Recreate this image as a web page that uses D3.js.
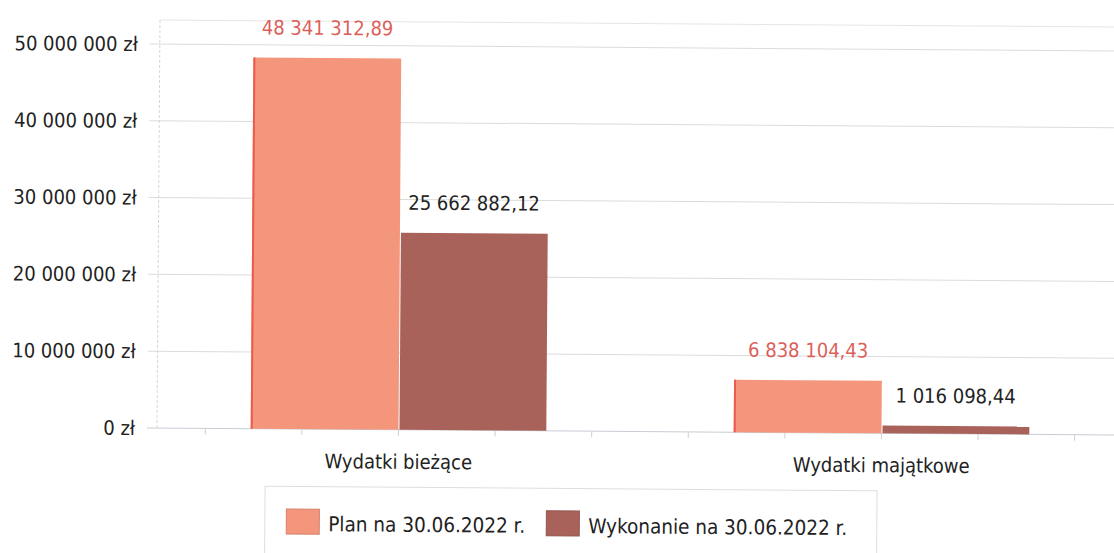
<!DOCTYPE html>
<html>
<head>
<meta charset="utf-8">
<script src="https://cdn.jsdelivr.net/npm/d3@7"></script>
<style>
  body { margin: 0; background: #fff; }
  svg { display: block; }
  text { font-family: "DejaVu Sans Condensed", "DejaVu Sans", sans-serif; font-stretch: condensed; }
</style>
</head>
<body>
<svg id="chart" width="1114" height="553"></svg>
<script>
let categories = ["Wydatki bieżące", "Wydatki majątkowe"]
let seriesNames = ["Plan na 30.06.2022 r.", "Wykonanie na 30.06.2022 r."]
let planValues = [48341312.89, 6838104.43]
let wykonanieValues = [25662882.12, 1016098.44]
let yTicks = [0, 10000000, 20000000, 30000000, 40000000, 50000000]

let colors = ["#f4967c", "#a8625a"]
let labelColors = ["#dc5f5a", "#222222"]

let pl = d3.formatLocale({ decimal: ",", thousands: " ", grouping: [3], currency: ["", " zł"] })
let fmtTick = v => pl.format(",.0f")(v) + " zł"
let fmtVal = pl.format(",.2f")

let svg = d3.select("#chart")
let plotLeft = 157, plotRight = 1123, plotTop = 20, plotBottom = 428

// scan is slightly tilted
let g = svg.append("g").attr("transform", `rotate(0.42 ${plotLeft} ${plotBottom})`)

let x0 = d3.scaleBand().domain(categories).range([plotLeft, plotRight]).paddingInner(0.388).paddingOuter(0.194)
let x1 = d3.scaleBand().domain(seriesNames).range([0, x0.bandwidth()])
let y = d3.scaleLinear().domain([0, 50000000]).range([plotBottom, 44])

// grid
g.selectAll(".grid").data(yTicks).enter().append("line")
  .attr("x1", plotLeft - 10).attr("x2", plotRight)
  .attr("y1", d => y(d)).attr("y2", d => y(d))
  .attr("stroke", d => d === 0 ? "#c8ccd4" : "#dcdcdc").attr("stroke-width", 1)

g.append("line").attr("x1", plotLeft).attr("x2", plotRight).attr("y1", plotTop).attr("y2", plotTop)
  .attr("stroke", "#e6e6e6")
g.append("line").attr("x1", plotLeft).attr("x2", plotLeft).attr("y1", plotTop).attr("y2", plotBottom)
  .attr("stroke", "#d6d6d6").attr("stroke-dasharray", "3,2")

// small ticks under the axis
let minor = d3.range(10).map(i => plotLeft + (plotRight - plotLeft) / 10 * (i + 0.5))
g.selectAll(".mtick").data(minor).enter().append("line")
  .attr("x1", d => d).attr("x2", d => d).attr("y1", plotBottom).attr("y2", plotBottom + 6)
  .attr("stroke", "#d0d0d0")

// y labels
g.selectAll(".ylab").data(yTicks).enter().append("text")
  .attr("x", 135).attr("y", d => y(d)).attr("dy", "0.36em")
  .attr("text-anchor", "end").attr("font-size", 20).attr("fill", "#222")
  .text(fmtTick)

// bars
let rows = categories.map((c, i) => ({ cat: c, vals: [planValues[i], wykonanieValues[i]] }))
let grp = g.selectAll(".grp").data(rows).enter().append("g")
  .attr("transform", d => `translate(${x0(d.cat)},0)`)

grp.selectAll("rect").data(d => d.vals.map((v, k) => ({ s: seriesNames[k], v: v, k: k })))
  .enter().append("rect")
  .attr("x", d => x1(d.s) + (d.k === 1 ? 1 : 0))
  .attr("width", d => x1.bandwidth() - (d.k === 1 ? 1 : 0))
  .attr("y", d => y(d.v))
  .attr("height", d => plotBottom - y(d.v))
  .attr("fill", d => colors[d.k])

grp.selectAll(".edge").data(d => [d.vals[0]]).enter().append("rect")
  .attr("x", x1(seriesNames[0])).attr("width", 2)
  .attr("y", d => y(d)).attr("height", d => plotBottom - y(d))
  .attr("fill", "#ec5a4c")

grp.selectAll(".vlab").data(d => d.vals.map((v, k) => ({ s: seriesNames[k], v: v, k: k })))
  .enter().append("text")
  .attr("x", d => x1(d.s) + x1.bandwidth() / 2)
  .attr("y", d => y(d.v) - 23)
  .attr("text-anchor", "middle").attr("font-size", 20)
  .attr("fill", d => labelColors[d.k])
  .text(d => fmtVal(d.v))

// category labels
g.selectAll(".clab").data(categories).enter().append("text")
  .attr("x", d => x0(d) + x0.bandwidth() / 2).attr("y", 467)
  .attr("text-anchor", "middle").attr("font-size", 20).attr("fill", "#222")
  .text(d => d)

// legend
let lg = g.append("g")
lg.append("rect").attr("x", 265.5).attr("y", 485.5).attr("width", 612).attr("height", 80)
  .attr("fill", "#fff").attr("stroke", "#dedede")
let lx = [287, 547]
seriesNames.forEach((s, i) => {
  lg.append("rect").attr("x", lx[i]).attr("y", 508).attr("width", 33).attr("height", 25)
    .attr("fill", colors[i]).attr("stroke", d3.color(colors[i]).darker(0.4))
  lg.append("text").attr("x", lx[i] + 42).attr("y", 530)
    .attr("font-size", 20.5).attr("fill", "#222").text(s)
})
</script>
</body>
</html>
